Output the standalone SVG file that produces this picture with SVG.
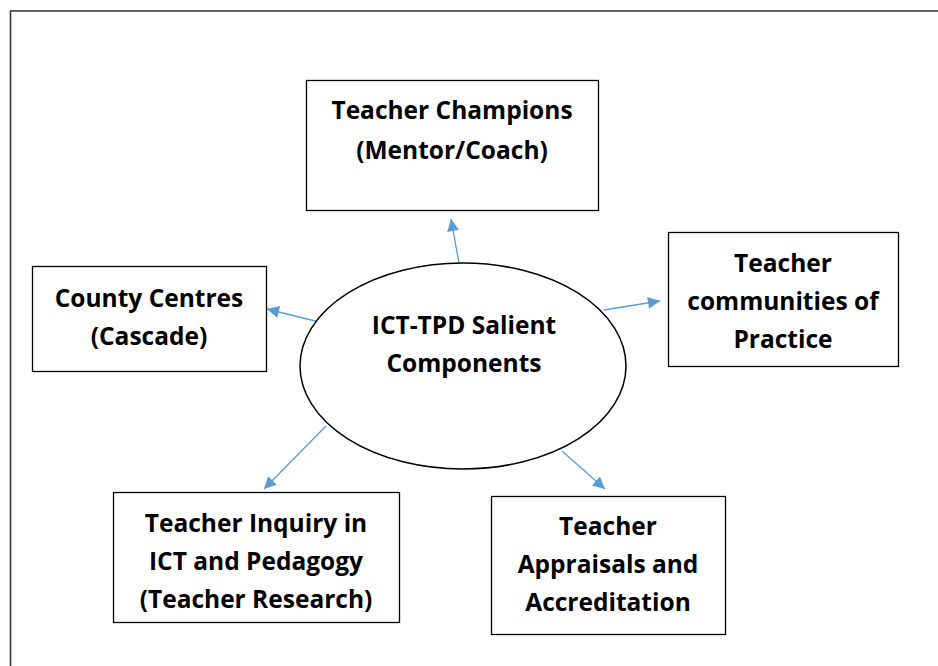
<svg xmlns="http://www.w3.org/2000/svg" width="938" height="666" viewBox="0 0 938 666">
  <style>
    .box { fill: #ffffff; stroke: #000000; stroke-width: 1.3; }
    .hub { fill: #ffffff; stroke: #000000; stroke-width: 1.5; }
    .label { font-family: "Open Sans", "Liberation Sans", sans-serif; font-weight: 700; font-size: 24.5px; fill: #000000; text-anchor: middle; }
    .link { stroke: #5b9bd5; stroke-width: 1.3; fill: none; marker-end: url(#arrow); }
  </style>
  <defs>
    <marker id="arrow" viewBox="0 0 10 10" refX="10" refY="5" markerWidth="15" markerHeight="12" markerUnits="userSpaceOnUse" orient="auto">
      <path d="M0,0 L10,5 L0,10 Z" fill="#5b9bd5"/>
    </marker>
  </defs>
  <rect width="938" height="666" fill="#ffffff"/>
  <!-- page frame -->
  <path d="M10.5,666 V11 H938" fill="none" stroke="#333333" stroke-width="1.6"/>

  <g id="connectors">
    <line class="link" x1="459" y1="263" x2="451" y2="219"/>
    <line class="link" x1="319" y1="322" x2="267" y2="309"/>
    <line class="link" x1="604" y1="310" x2="660" y2="301"/>
    <line class="link" x1="326" y1="426" x2="264" y2="489"/>
    <line class="link" x1="562" y1="451" x2="605" y2="489"/>
  </g>

  <g id="hub">
    <ellipse class="hub" cx="463" cy="366" rx="163" ry="103"/>
    <text class="label" x="464" y="334">ICT-TPD Salient</text>
    <text class="label" x="464" y="372">Components</text>
  </g>

  <g id="champions">
    <rect class="box" x="306.5" y="80.5" width="292" height="130"/>
    <text class="label" x="452" y="119">Teacher Champions</text>
    <text class="label" x="452" y="159">(Mentor/Coach)</text>
  </g>

  <g id="county">
    <rect class="box" x="32.5" y="266.5" width="234" height="105"/>
    <text class="label" x="149" y="307">County Centres</text>
    <text class="label" x="149" y="345">(Cascade)</text>
  </g>

  <g id="communities">
    <rect class="box" x="668.5" y="232.5" width="230" height="134"/>
    <text class="label" x="783" y="272">Teacher</text>
    <text class="label" x="783" y="310">communities of</text>
    <text class="label" x="783" y="348">Practice</text>
  </g>

  <g id="inquiry">
    <rect class="box" x="113.5" y="492.5" width="286" height="130"/>
    <text class="label" x="256" y="532">Teacher Inquiry in</text>
    <text class="label" x="256" y="570">ICT and Pedagogy</text>
    <text class="label" x="256" y="608">(Teacher Research)</text>
  </g>

  <g id="appraisals">
    <rect class="box" x="491.5" y="496.5" width="234" height="138"/>
    <text class="label" x="608" y="535">Teacher</text>
    <text class="label" x="608" y="573">Appraisals and</text>
    <text class="label" x="608" y="611">Accreditation</text>
  </g>
</svg>
